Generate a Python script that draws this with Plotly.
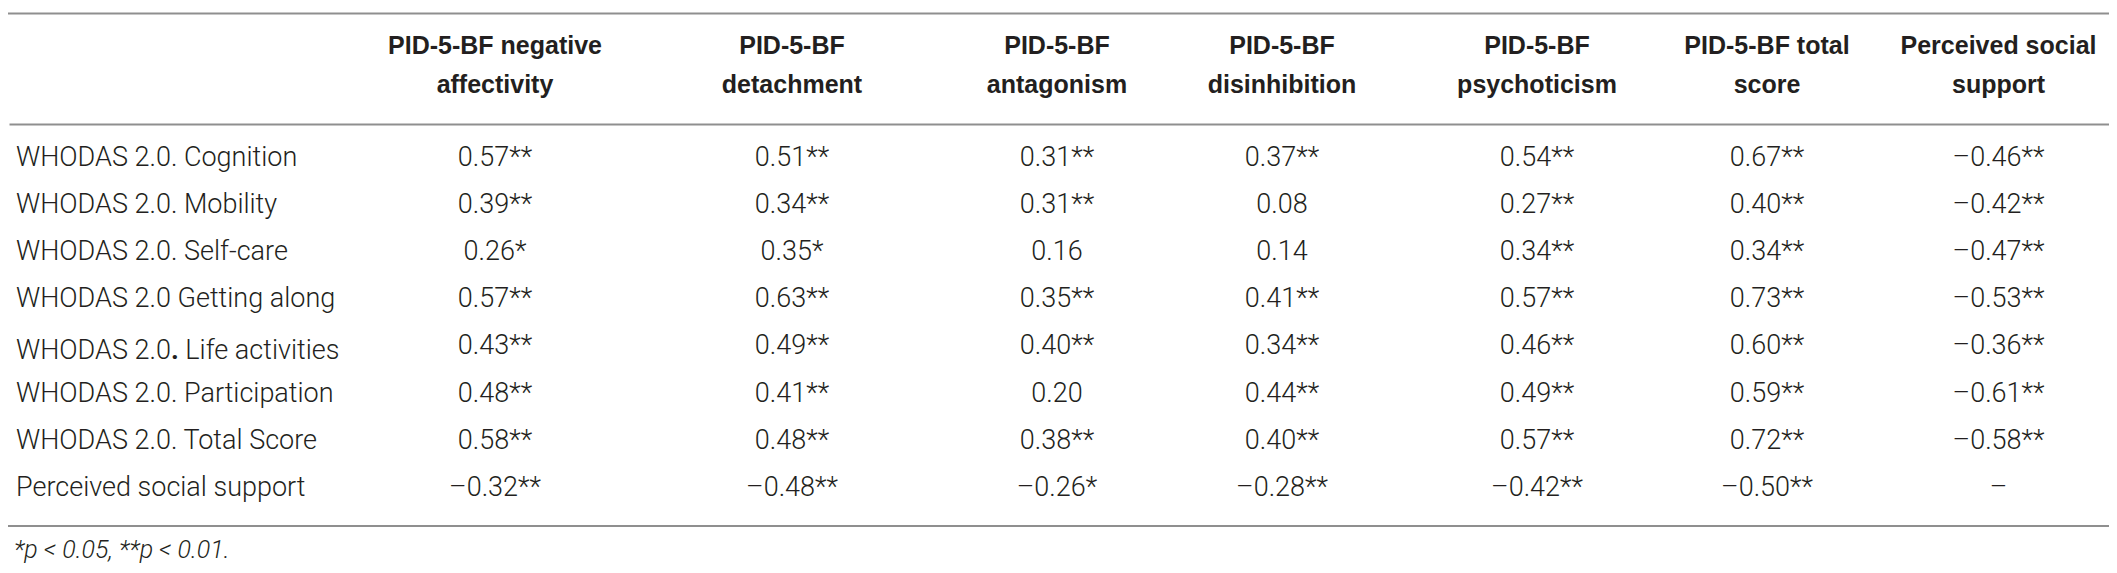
import plotly.graph_objects as go

row_labels = [
    "WHODAS 2.0. Cognition",
    "WHODAS 2.0. Mobility",
    "WHODAS 2.0. Self-care",
    "WHODAS 2.0 Getting along",
    "WHODAS 2.0<b>.</b> Life activities",
    "WHODAS 2.0. Participation",
    "WHODAS 2.0. Total Score",
    "Perceived social support",
]

# header text, first and second line of each column
header_line1 = ["PID-5-BF negative", "PID-5-BF", "PID-5-BF", "PID-5-BF",
                "PID-5-BF", "PID-5-BF total", "Perceived social"]
header_line2 = ["affectivity", "detachment", "antagonism", "disinhibition",
                "psychoticism", "score", "support"]

# correlations, column by column (None = diagonal)
neg_affectivity = [0.57, 0.39, 0.26, 0.57, 0.43, 0.48, 0.58, -0.32]
detachment = [0.51, 0.34, 0.35, 0.63, 0.49, 0.41, 0.48, -0.48]
antagonism = [0.31, 0.31, 0.16, 0.35, 0.40, 0.20, 0.38, -0.26]
disinhibition = [0.37, 0.08, 0.14, 0.41, 0.34, 0.44, 0.40, -0.28]
psychoticism = [0.54, 0.27, 0.34, 0.57, 0.46, 0.49, 0.57, -0.42]
total_score = [0.67, 0.40, 0.34, 0.73, 0.60, 0.59, 0.72, -0.50]
social_support = [-0.46, -0.42, -0.47, -0.53, -0.36, -0.61, -0.58, None]

# significance marks
neg_affectivity_sig = ["**", "**", "*", "**", "**", "**", "**", "**"]
detachment_sig = ["**", "**", "*", "**", "**", "**", "**", "**"]
antagonism_sig = ["**", "**", "", "**", "**", "", "**", "*"]
disinhibition_sig = ["**", "", "", "**", "**", "**", "**", "**"]
psychoticism_sig = ["**", "**", "**", "**", "**", "**", "**", "**"]
total_score_sig = ["**", "**", "**", "**", "**", "**", "**", "**"]
social_support_sig = ["**", "**", "**", "**", "**", "**", "**", ""]

footnote = "*p < 0.05, **p < 0.01."

W, H = 2117, 573
TEXT = "#231f20"
RULE = "#8f8f8f"
CLEAR = "rgba(0,0,0,0)"
COL_W = [360, 254, 340, 190, 260, 250, 210, 253]


def fmt(vals, sigs):
    out = []
    for v, s in zip(vals, sigs):
        if v is None:
            out.append("–")
            continue
        txt = f"{abs(v):.2f}"
        if v < 0:
            txt = "–" + txt
        out.append(txt + s)
    return out


columns = [
    fmt(neg_affectivity, neg_affectivity_sig),
    fmt(detachment, detachment_sig),
    fmt(antagonism, antagonism_sig),
    fmt(disinhibition, disinhibition_sig),
    fmt(psychoticism, psychoticism_sig),
    fmt(total_score, total_score_sig),
    fmt(social_support, social_support_sig),
]
body = [row_labels] + columns

# two header rows so each line is centred on its own
header_vals = [["", ""]] + [[a, b] for a, b in zip(header_line1, header_line2)]
aligns = ["left"] + ["center"] * 7
body_font = dict(family="Roboto", size=27, color=TEXT, weight=300)

fig = go.Figure()

# column headings
fig.add_trace(go.Table(
    domain=dict(x=[0, 1], y=[1 - 104 / H, 1 - 19 / H]),
    columnwidth=COL_W,
    header=dict(
        values=header_vals,
        align=aligns,
        height=39,
        fill=dict(color=CLEAR),
        line=dict(color=CLEAR, width=0),
        font=dict(family="Liberation Sans", size=25, color=TEXT, weight="bold"),
    ),
    cells=dict(values=[]),
))

# body rows (first row carried by the header slot, styled like the others)
fig.add_trace(go.Table(
    domain=dict(x=[0, 1], y=[0, 1 - 130 / H]),
    columnwidth=COL_W,
    header=dict(
        values=[col[0] for col in body],
        align=aligns,
        height=47,
        fill=dict(color=CLEAR),
        line=dict(color=CLEAR, width=0),
        font=body_font,
    ),
    cells=dict(
        values=[col[1:] for col in body],
        align=aligns,
        height=47,
        fill=dict(color=CLEAR),
        line=dict(color=CLEAR, width=0),
        font=body_font,
    ),
))

# horizontal rules: top and bottom as shapes
for ypx in [5.5, 518]:
    fig.add_shape(type="line", xref="paper", yref="paper", layer="above",
                  x0=0, x1=1, y0=1 - ypx / H, y1=1 - ypx / H,
                  line=dict(color=RULE, width=2))

# rule under the headings, drawn as a headless annotation arrow
fig.add_annotation(
    x=1, y=1 - 116.5 / H, xref="paper", yref="paper",
    ax=-W, ay=0, text="", showarrow=True, arrowhead=0,
    arrowwidth=2, arrowcolor=RULE, standoff=0, startstandoff=0,
)

fig.add_annotation(
    text=footnote, xref="paper", yref="paper", x=0.002, y=1 - 541 / H,
    xanchor="left", yanchor="middle", showarrow=False,
    font=dict(family="Roboto", size=25, color=TEXT, weight=300, style="italic"),
)

fig.update_layout(
    width=W, height=H,
    margin=dict(l=0, r=0, t=0, b=0),
    paper_bgcolor="white",
    plot_bgcolor="white",
)

fig.write_html("out.html")
